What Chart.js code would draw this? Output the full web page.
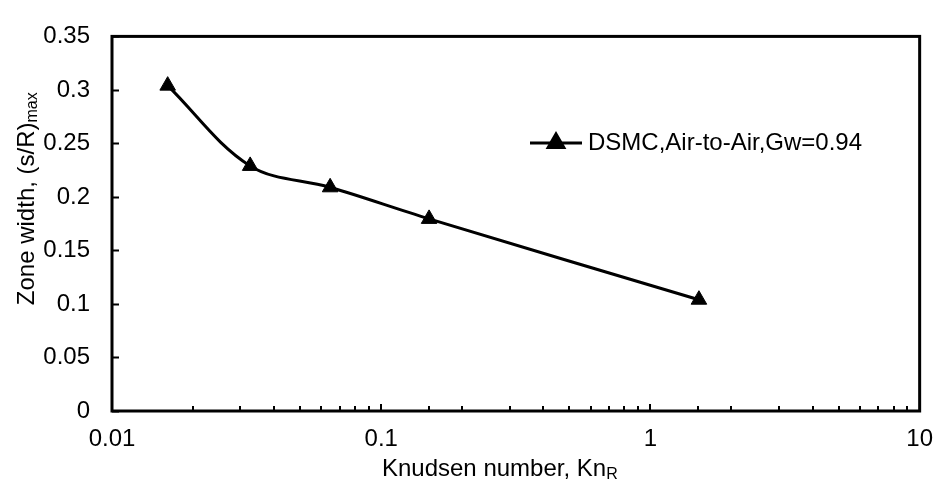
<!DOCTYPE html>
<html>
<head>
<meta charset="utf-8">
<script src="https://cdn.jsdelivr.net/npm/chart.js@4/dist/chart.umd.min.js"></script>
<style>
  html, body { margin: 0; padding: 0; background: #fff; }
  #wrap { width: 947px; height: 491px; }
</style>
</head>
<body>
<div id="wrap"><canvas id="zoneChart" width="947" height="491"></canvas></div>
<script>
// Values
const knudsen = [0.0161, 0.0326, 0.0646, 0.1506, 1.514];
const zoneWidth = [0.304, 0.229, 0.209, 0.1795, 0.104];
const seriesName = 'DSMC,Air-to-Air,Gw=0.94';
const xTickLabels = ['0.01', '0.1', '1', '10'];
const yTicks = [0, 0.05, 0.1, 0.15, 0.2, 0.25, 0.3, 0.35];
const yTickLabels = ['0', '0.05', '0.1', '0.15', '0.2', '0.25', '0.3', '0.35'];

const FONT = '"Liberation Sans", Arial, sans-serif';
const FSIZE = 24;

// text with a subscript tail, e.g. Kn + R
function subText(ctx, main, sub, x, y) {
    ctx.font = FSIZE + 'px ' + FONT;
    const w1 = ctx.measureText(main).width;
    ctx.font = Math.round(FSIZE * 0.68) + 'px ' + FONT;
    const w2 = ctx.measureText(sub).width;
    let sx = x - (w1 + w2) / 2;
    ctx.font = FSIZE + 'px ' + FONT;
    ctx.textAlign = 'left';
    ctx.textBaseline = 'middle';
    ctx.fillText(main, sx, y);
    ctx.font = Math.round(FSIZE * 0.68) + 'px ' + FONT;
    ctx.fillText(sub, sx + w1, y + 6);
}

const decorPlugin = {
    id: 'decor',
    afterDraw(chart) {
        const ctx = chart.ctx;
        const a = chart.chartArea;
        const xs = chart.scales.x, ys = chart.scales.y;
        ctx.save();
        ctx.strokeStyle = '#000';
        ctx.fillStyle = '#000';

        // inward tick marks
        ctx.lineWidth = 2;
        ctx.beginPath();
        ys.ticks.forEach(t => {
            const py = Math.round(ys.getPixelForValue(t.value)) + 0.5;
            ctx.moveTo(a.left, py);
            ctx.lineTo(a.left + 7, py);
        });
        xs.ticks.forEach(t => {
            const lg = Math.log10(t.value);
            const major = Math.abs(lg - Math.round(lg)) < 1e-6;
            const px = Math.round(xs.getPixelForValue(t.value));
            ctx.moveTo(px, a.bottom);
            ctx.lineTo(px, a.bottom - (major ? 7 : 5));
        });
        ctx.stroke();

        // plot frame
        ctx.lineWidth = 3;
        ctx.strokeRect(a.left, a.top, a.right - a.left, a.bottom - a.top);

        // axis titles
        subText(ctx, 'Knudsen number, Kn', 'R', (a.left + a.right) / 2 - 16, 469);
        ctx.save();
        ctx.translate(27, (a.top + a.bottom) / 2 - 25);
        ctx.rotate(-Math.PI / 2);
        subText(ctx, 'Zone width, (s/R)', 'max', 0, 0);
        ctx.restore();

        // legend
        const ly = 143;
        ctx.lineWidth = 3;
        ctx.beginPath();
        ctx.moveTo(530, ly);
        ctx.lineTo(582, ly);
        ctx.stroke();
        Chart.helpers.drawPoint(ctx, { pointStyle: 'triangle', radius: 9, borderWidth: 1 }, 556, ly);
        ctx.fill();
        ctx.font = FSIZE + 'px ' + FONT;
        ctx.textAlign = 'left';
        ctx.textBaseline = 'middle';
        ctx.fillText(seriesName, 588, ly);
        ctx.restore();
    }
};

const ctx = document.getElementById('zoneChart').getContext('2d');
const zoneChart = new Chart(ctx, {
    type: 'line',
    data: {
        datasets: [{
            label: seriesName,
            data: knudsen.map((k, i) => ({ x: k, y: zoneWidth[i] })),
            borderColor: '#000',
            backgroundColor: '#000',
            borderWidth: 3,
            tension: 0.35,
            pointStyle: 'triangle',
            pointRadius: 9,
            pointBorderWidth: 1,
            fill: false
        }]
    },
    options: {
        responsive: false,
        animation: false,
        devicePixelRatio: 1,
        layout: { padding: { top: 15, right: 19, left: 0, bottom: 0 } },
        plugins: { legend: { display: false }, tooltip: { enabled: false } },
        scales: {
            x: {
                type: 'logarithmic',
                min: 0.01,
                max: 10,
                grid: { display: false, drawTicks: false },
                border: { display: false },
                afterFit: s => { s.height = 80; },
                ticks: {
                    autoSkip: false,
                    maxRotation: 0,
                    padding: 14,
                    color: '#000',
                    font: { family: FONT, size: FSIZE },
                    callback: v => {
                        const e = Math.log10(v);
                        if (Math.abs(e - Math.round(e)) < 1e-6) return xTickLabels[Math.round(e) + 2];
                        return '';
                    }
                }
            },
            y: {
                min: yTicks[0],
                max: yTicks[yTicks.length - 1],
                grid: { display: false, drawTicks: false },
                border: { display: false },
                afterFit: s => { s.width = 112; },
                afterBuildTicks: s => { s.ticks = yTicks.map(v => ({ value: v })); },
                ticks: {
                    padding: 22,
                    color: '#000',
                    font: { family: FONT, size: FSIZE },
                    callback: (v, i) => yTickLabels[i]
                }
            }
        }
    },
    plugins: [decorPlugin]
});
</script>
</body>
</html>
